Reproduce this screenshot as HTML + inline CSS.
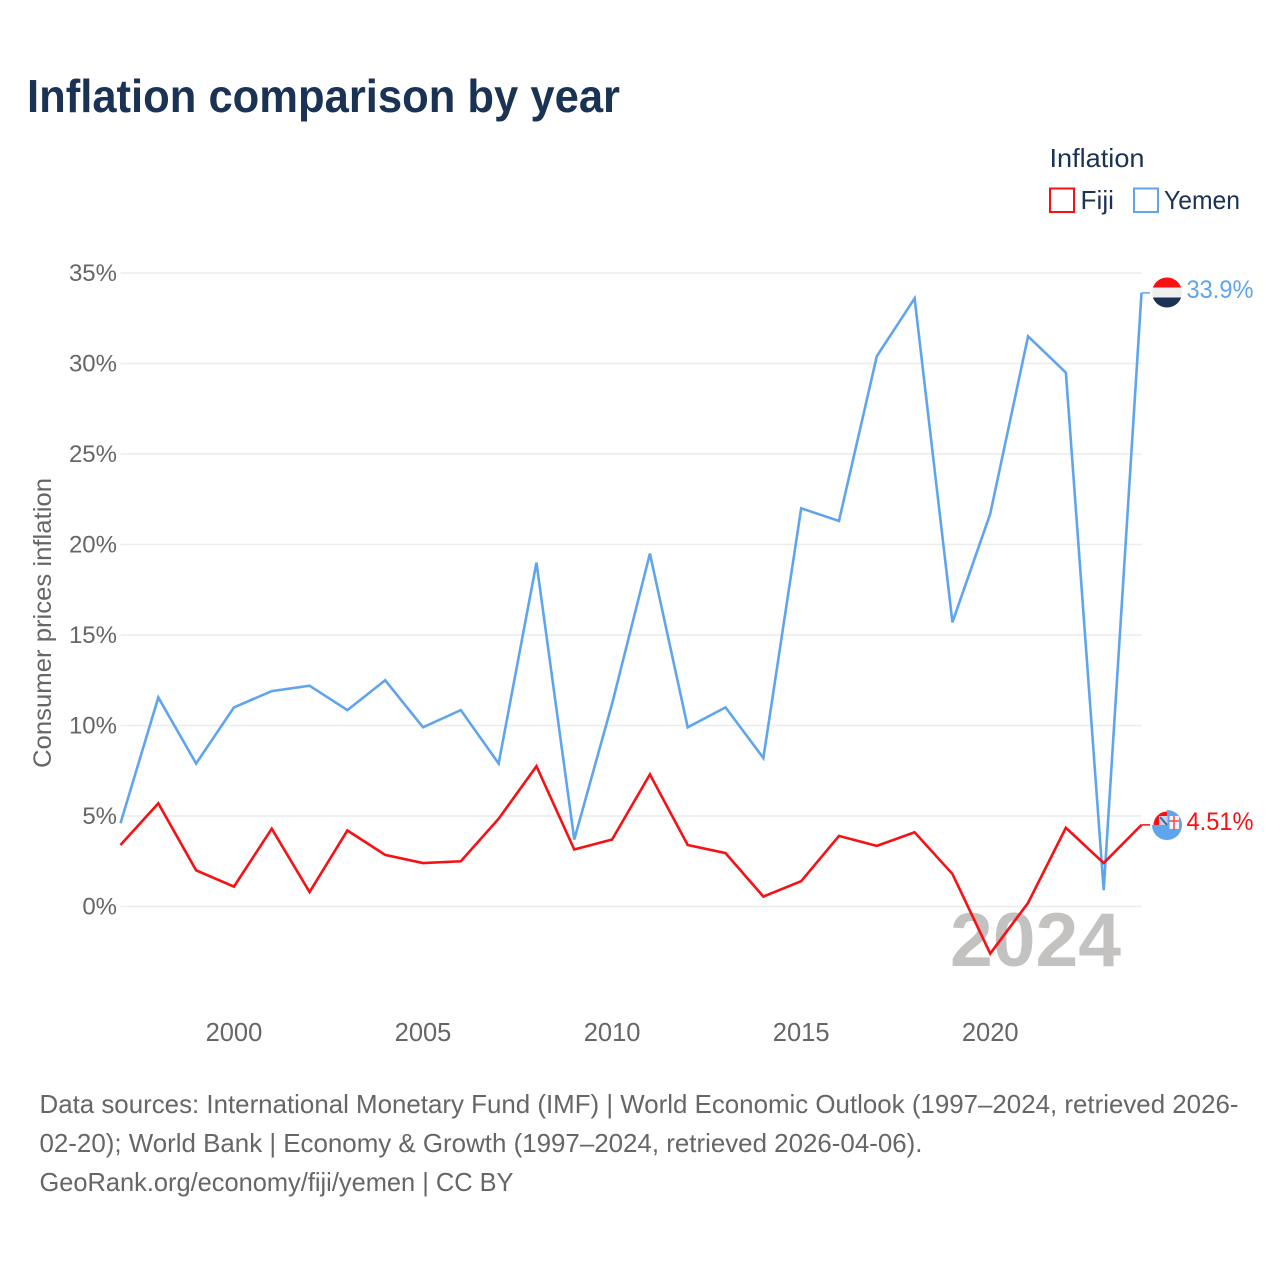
<!DOCTYPE html>
<html lang="en">
<head>
<meta charset="utf-8">
<title>Inflation comparison by year</title>
<style>
html,body{margin:0;padding:0;background:#fff;width:1280px;height:1280px;overflow:hidden}
svg{display:block}
text{font-family:"Liberation Sans",sans-serif}
</style>
</head>
<body>
<svg id="chart" xmlns="http://www.w3.org/2000/svg" width="1280" height="1280" viewBox="0 0 1280 1280">
  <defs>
    <clipPath id="yemen-flag-clip"><circle cx="1167" cy="292.500" r="15"/></clipPath>
    <clipPath id="fiji-flag-clip"><circle cx="1167" cy="825" r="15"/></clipPath>
  </defs>
  <rect x="0" y="0" width="1280" height="1280" fill="#fff"/>
  <text x="27" y="112" font-size="46" font-weight="700" fill="#1a3253" textLength="593" lengthAdjust="spacingAndGlyphs">Inflation comparison by year</text>

  <g>
    <text x="1049.500" y="167" font-size="26" fill="#1a3253" textLength="95" lengthAdjust="spacingAndGlyphs">Inflation</text>
    <rect x="1050" y="188.500" width="24" height="23.500" fill="none" stroke="#f81014" stroke-width="2"/>
    <text x="1080.500" y="209" font-size="26" fill="#1a3253" textLength="33.500" lengthAdjust="spacingAndGlyphs">Fiji</text>
    <rect x="1134" y="188.500" width="24" height="23.500" fill="none" stroke="#5fa5ee" stroke-width="2"/>
    <text x="1164" y="209" font-size="26" fill="#1a3253" textLength="76" lengthAdjust="spacingAndGlyphs">Yemen</text>
  </g>

  <text transform="translate(51,768) rotate(-90)" x="0" y="0" font-size="25" fill="#666" textLength="290" lengthAdjust="spacingAndGlyphs">Consumer prices inflation</text>

  <g id="grid"></g>
  <g id="y-ticks"></g>
  <g id="x-ticks"></g>

  <text x="950" y="966" font-size="76" font-weight="700" fill="#c4c1c1" textLength="171" lengthAdjust="spacingAndGlyphs">2024</text>

  <g id="series"></g>

  <g clip-path="url(#yemen-flag-clip)">
    <rect x="1152" y="277" width="30" height="11" fill="#f81014"/>
    <rect x="1152" y="287.500" width="30" height="10" fill="#efefef"/>
    <rect x="1152" y="297.500" width="30" height="11" fill="#1a3253"/>
  </g>

  <g>
    <circle cx="1167" cy="825" r="13.500" fill="#f81014"/>
    <g clip-path="url(#fiji-flag-clip)">
      <path d="M1167 810H1182V840H1152V825H1167Z" fill="#5fa5ee"/>
      <rect x="1159" y="816" width="8.500" height="9" fill="#c7d4e6"/>
      <path d="M1160 817L1167 825" stroke="#3b6aa8" stroke-width="2" fill="none"/>
      <rect x="1169.500" y="816" width="9.500" height="13" fill="#f4f4f4"/>
      <path d="M1174 816V830M1169.500 821H1179" stroke="#f0484c" stroke-width="1.500" fill="none"/>
    </g>
  </g>

  <text id="label-yemen" x="1186.500" y="298" font-size="25" fill="#5fa5ee" textLength="67" lengthAdjust="spacingAndGlyphs"></text>
  <text id="label-fiji" x="1186.500" y="830" font-size="25" fill="#f81014" textLength="67" lengthAdjust="spacingAndGlyphs"></text>

  <g font-size="26" fill="#666">
    <text x="39.500" y="1113" textLength="1199" lengthAdjust="spacingAndGlyphs">Data sources: International Monetary Fund (IMF) | World Economic Outlook (1997–2024, retrieved 2026-</text>
    <text x="39.500" y="1152" textLength="883" lengthAdjust="spacingAndGlyphs">02-20); World Bank | Economy &amp; Growth (1997–2024, retrieved 2026-04-06).</text>
    <text x="39.500" y="1191" textLength="474" lengthAdjust="spacingAndGlyphs">GeoRank.org/economy/fiji/yemen | CC BY</text>
  </g>
</svg>
<script>
const years = [1997,1998,1999,2000,2001,2002,2003,2004,2005,2006,2007,2008,2009,2010,2011,2012,2013,2014,2015,2016,2017,2018,2019,2020,2021,2022,2023,2024];
const yemenValues = [4.6,11.55,7.9,11.0,11.9,12.2,10.85,12.5,9.9,10.85,7.9,19.0,3.7,11.2,19.5,9.9,11.0,8.2,22.0,21.3,30.4,33.6,15.7,21.7,31.5,29.5,0.9,33.9];
const fijiValues = [3.4,5.7,2.0,1.1,4.3,0.8,4.2,2.85,2.4,2.5,4.85,7.75,3.15,3.7,7.3,3.4,2.95,0.55,1.4,3.9,3.35,4.1,1.8,-2.6,0.2,4.35,2.4,4.51];
const yTickValues = [0,5,10,15,20,25,30,35];
const yTickLabels = ['0%','5%','10%','15%','20%','25%','30%','35%'];
const xTickValues = [2000,2005,2010,2015,2020];
const xTickLabels = ['2000','2005','2010','2015','2020'];
const yemenEndLabel = '33.9%';
const fijiEndLabel = '4.51%';

const SVG_NS = 'http://www.w3.org/2000/svg';
const xScale = function (year) { return 120.5 + (year - 1997) * (1141.5 - 120.5) / 27; };
const yScale = function (value) { return 906.5 - value * (906.5 - 273) / 35; };

const gridGroup = document.getElementById('grid');
const yTickGroup = document.getElementById('y-ticks');
const xTickGroup = document.getElementById('x-ticks');
const seriesGroup = document.getElementById('series');

yTickValues.forEach(function (value, i) {
  const line = document.createElementNS(SVG_NS, 'line');
  
  
  line.setAttribute('x1', 120.5);
  line.setAttribute('x2', 1141.5);
  line.setAttribute('y1', yScale(value));
  line.setAttribute('y2', yScale(value));
  line.setAttribute('stroke', '#ececec');
  line.setAttribute('stroke-width', '1.5');
  gridGroup.appendChild(line);

  const text = document.createElementNS(SVG_NS, 'text');
  
  
  text.setAttribute('x', 117);
  text.setAttribute('y', yScale(value) + 8);
  text.setAttribute('text-anchor', 'end');
  text.setAttribute('font-size', '24');
  text.setAttribute('fill', '#666');
  text.textContent = yTickLabels[i];
  yTickGroup.appendChild(text);
});

xTickValues.forEach(function (year, i) {
  const text = document.createElementNS(SVG_NS, 'text');
  
  
  text.setAttribute('x', xScale(year));
  text.setAttribute('y', 1041);
  text.setAttribute('text-anchor', 'middle');
  text.setAttribute('font-size', '25.5');
  text.setAttribute('fill', '#666');
  text.textContent = xTickLabels[i];
  xTickGroup.appendChild(text);
});

function buildPoints(values) {
  return values.map(function (value, i) {
    return xScale(years[i]).toFixed(2) + ',' + yScale(value).toFixed(2);
  }).join(' ');
}

const yemenLine = document.createElementNS(SVG_NS, 'polyline');


yemenLine.setAttribute('points', buildPoints(yemenValues));
yemenLine.setAttribute('fill', 'none');
yemenLine.setAttribute('stroke', '#5fa5ee');
yemenLine.setAttribute('stroke-width', '2.6');
seriesGroup.appendChild(yemenLine);

const fijiLine = document.createElementNS(SVG_NS, 'polyline');


fijiLine.setAttribute('points', buildPoints(fijiValues));
fijiLine.setAttribute('fill', 'none');
fijiLine.setAttribute('stroke', '#f81014');
fijiLine.setAttribute('stroke-width', '2.6');
seriesGroup.appendChild(fijiLine);

const yemenLast = yemenValues[yemenValues.length - 1];
const yemenConnector = document.createElementNS(SVG_NS, 'line');


yemenConnector.setAttribute('x1', xScale(2024));
yemenConnector.setAttribute('x2', 1150);
yemenConnector.setAttribute('y1', yScale(yemenLast));
yemenConnector.setAttribute('y2', yScale(yemenLast));
yemenConnector.setAttribute('stroke', '#5fa5ee');
yemenConnector.setAttribute('stroke-width', '1.5');
seriesGroup.appendChild(yemenConnector);

const fijiLast = fijiValues[fijiValues.length - 1];
const fijiConnector = document.createElementNS(SVG_NS, 'line');


fijiConnector.setAttribute('x1', xScale(2024));
fijiConnector.setAttribute('x2', 1150);
fijiConnector.setAttribute('y1', yScale(fijiLast));
fijiConnector.setAttribute('y2', yScale(fijiLast));
fijiConnector.setAttribute('stroke', '#f81014');
fijiConnector.setAttribute('stroke-width', '1.5');
seriesGroup.appendChild(fijiConnector);

document.getElementById('label-yemen').textContent = yemenEndLabel;
document.getElementById('label-fiji').textContent = fijiEndLabel;
</script>
</body>
</html>
